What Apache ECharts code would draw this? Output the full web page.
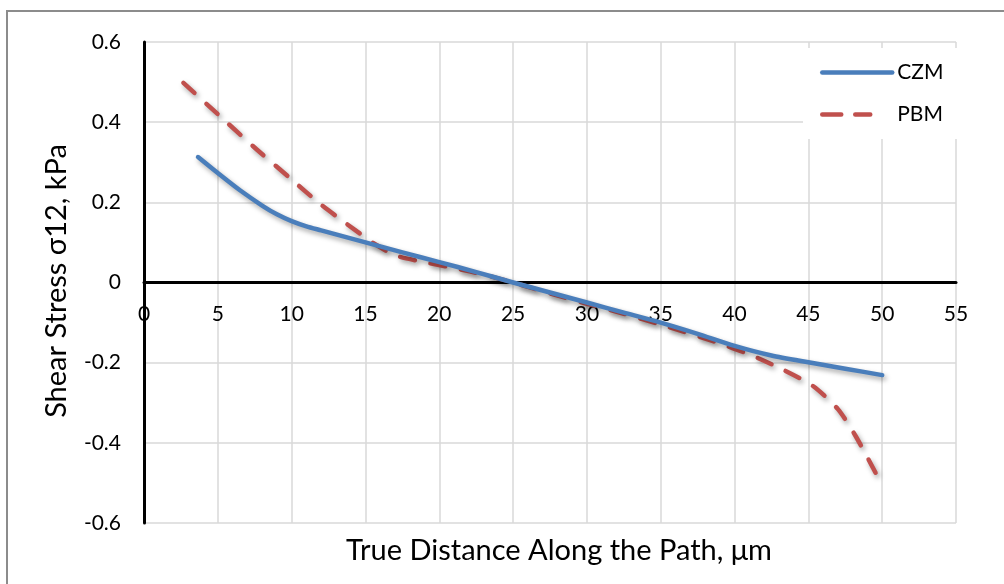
<!DOCTYPE html>
<html>
<head>
<meta charset="utf-8">
<script src="https://cdn.jsdelivr.net/npm/echarts@6/dist/echarts.min.js"></script>
<style>html,body{margin:0;padding:0;background:#fff;}#c{width:1004px;height:584px;}</style>
</head>
<body>
<div id="c"></div>
<script>
const seriesNames = ['CZM', 'PBM'];
const czm = [[3.66,0.313],[5,0.273],[6.5,0.230],[8,0.192],[9,0.170],[10,0.153],[11,0.140],[12,0.130],[13.5,0.115],[15,0.100],[17.5,0.075],[20,0.051],[22.5,0.026],[25,0],[27.5,-0.025],[30,-0.050],[32.5,-0.075],[35,-0.100],[37.5,-0.128],[40,-0.158],[42.5,-0.182],[45,-0.199],[47.5,-0.215],[50,-0.231]];
const pbm = [[2.67,0.498],[5,0.42],[7.6,0.333],[10,0.257],[11.9,0.197],[13.7,0.147],[15.6,0.097],[17.0,0.068],[18.7,0.053],[20.9,0.037],[23.2,0.018],[25,0],[27.5,-0.027],[30,-0.053],[32.5,-0.078],[35,-0.105],[38.6,-0.147],[41.1,-0.181],[43.2,-0.216],[45.3,-0.258],[47,-0.316],[48.2,-0.383],[49.6,-0.478]];
const xTicks = {min: 0, max: 55, step: 5};
const yTicks = {min: -0.6, max: 0.6, step: 0.2};
const xTitle = 'True Distance Along the Path, μm';
const yTitle = 'Shear Stress σ12, kPa';

const FONT = 'Lato';
const chart = echarts.init(document.getElementById('c'), null, {renderer: 'canvas'});
const shadow = {shadowColor: 'rgba(0,0,0,0.35)', shadowBlur: 5, shadowOffsetX: 2, shadowOffsetY: 3};
chart.setOption({
  animation: false,
  backgroundColor: '#fff',
  textStyle: {fontFamily: FONT},
  grid: [
    {left: 144, right: 48, top: 42, bottom: 61, containLabel: false},
    {left: 144, right: 48, top: 42, bottom: 302, containLabel: false}
  ],
  xAxis: [{
    type: 'value', gridIndex: 0, min: xTicks.min, max: xTicks.max, interval: xTicks.step,
    axisLine: {onZero: true, lineStyle: {color: '#000', width: 3}},
    axisTick: {show: false},
    axisLabel: {show: false},
    splitLine: {show: true, lineStyle: {color: '#d9d9d9', width: 1.5}}
  }, {
    type: 'value', gridIndex: 1, min: xTicks.min, max: xTicks.max, interval: xTicks.step,
    axisLine: {show: false}, axisTick: {show: false}, splitLine: {show: false},
    axisLabel: {color: '#000', fontSize: 21, fontFamily: FONT, margin: 22}
  }],
  yAxis: [{
    type: 'value', gridIndex: 0, min: yTicks.min, max: yTicks.max, interval: yTicks.step,
    axisLine: {onZero: false, lineStyle: {color: '#000', width: 3}},
    axisTick: {show: false},
    axisLabel: {color: '#000', fontSize: 21, fontFamily: FONT, margin: 23,
      formatter: v => (Math.abs(v) < 1e-9 ? '0' : (+v.toFixed(1)).toString())},
    splitLine: {show: true, lineStyle: {color: '#d9d9d9', width: 1.5}}
  }, {
    type: 'value', gridIndex: 1, min: 0, max: 1, show: false
  }],
  legend: {
    orient: 'vertical', left: 803, top: 48, width: 152,
    backgroundColor: '#fff',
    padding: [14, 40, 14, 17],
    itemWidth: 70, itemHeight: 20, itemGap: 21,
    textStyle: {color: '#000', fontSize: 21, fontFamily: FONT},
    itemStyle: {opacity: 0},
    lineStyle: {width: 4.5, cap: 'round', shadowBlur: 0, shadowColor: 'rgba(0,0,0,0)', shadowOffsetX: 0, shadowOffsetY: 0},
    data: [
      {name: seriesNames[0]},
      {name: seriesNames[1], lineStyle: {type: [19, 14, 15, 60]}}
    ]
  },
  series: [
    {name: seriesNames[0], type: 'line', data: czm, symbol: 'none', smooth: 0.25, z: 3,
     lineStyle: Object.assign({color: '#4a7ebb', width: 4.5, cap: 'round', join: 'round'}, shadow),
     itemStyle: {color: '#4a7ebb'}},
    {name: seriesNames[1], type: 'line', data: pbm, symbol: 'none', smooth: 0.25, z: 2,
     lineStyle: Object.assign({color: '#c0504d', width: 4.5, type: [15, 16], cap: 'round', join: 'round'}, shadow),
     itemStyle: {color: '#c0504d'}}
  ],
  graphic: [
    {type: 'rect', shape: {x: 7, y: 11, width: 1200, height: 800}, style: {fill: 'none', stroke: '#8c8c8c', lineWidth: 2}, silent: true, z: 100},
    {type: 'text', x: 559, y: 551, style: {text: xTitle, fill: '#000', font: '29px ' + FONT, textAlign: 'center', textVerticalAlign: 'middle'}},
    {type: 'text', x: 57, y: 281, rotation: Math.PI / 2, style: {text: yTitle, fill: '#000', font: '29px ' + FONT, textAlign: 'center', textVerticalAlign: 'middle'}}
  ]
});
</script>
</body>
</html>
